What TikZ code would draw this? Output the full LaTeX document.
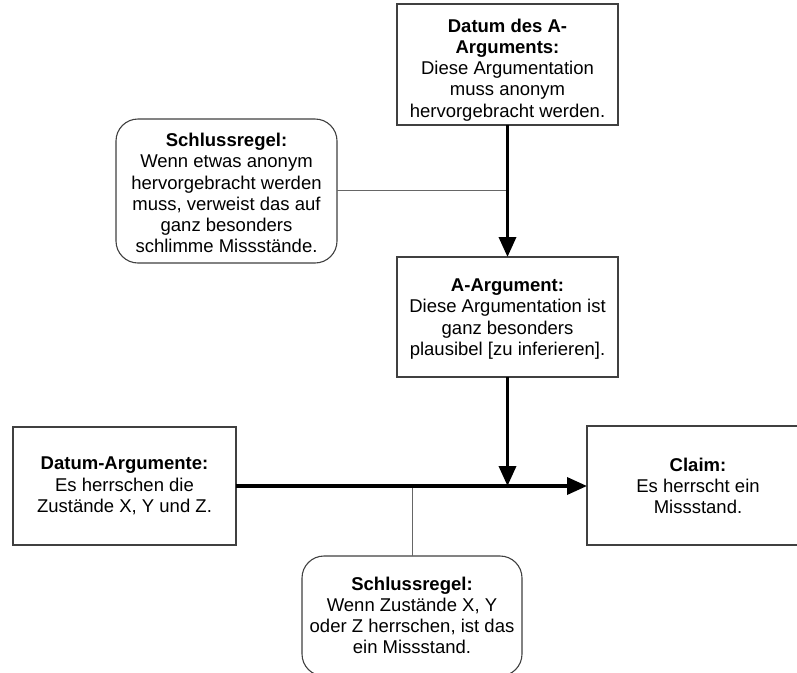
\documentclass[tikz,border=0pt]{standalone}
\usepackage{fontspec}
\setmainfont{Liberation Sans}
\usetikzlibrary{arrows.meta}
\begin{document}
\begin{tikzpicture}[x=1pt,y=-1pt,
  every node/.style={font=\fontsize{18.5}{21.2}\selectfont, align=center, inner sep=0pt},
  sqbox/.style={draw=black!75, line width=1.1pt, fill=white},
  rbox/.style={draw=black!75, line width=1.1pt, fill=white, rounded corners=22pt},
  strong/.style={line width=3.5pt, draw=black},
  tip/.style={-{Triangle[length=20pt,width=17pt]}},
  thinline/.style={line width=1pt, draw=black!60}]
\useasboundingbox (0,0) rectangle (797,672);
\clip (0,0) rectangle (797,672);
% boxes
\draw[sqbox] (397,4) rectangle (618,125);
\node (dA) at (507.5,70) {\textbf{Datum des A-}\\\textbf{Arguments:}\\Diese Argumentation\\muss anonym\\hervorgebracht werden.};
\coordinate (dAs) at (507.5,125);

\draw[rbox] (116,119) rectangle (337,263);
\node (sr1) at (226.5,193) {\textbf{Schlussregel:}\\Wenn etwas anonym\\hervorgebracht werden\\muss, verweist das auf\\ganz besonders\\schlimme Missstände.};
\coordinate (sr1e) at (337,190);

\draw[sqbox] (397,257) rectangle (618,377);
\node (aA) at (507.5,319) {\textbf{A-Argument:}\\Diese Argumentation ist\\ganz besonders\\plausibel [zu inferieren].};
\coordinate (aAn) at (507.5,257);
\coordinate (aAs) at (507.5,377);

\draw[sqbox] (13,427) rectangle (236,545);
\node (dArg) at (124.5,486) {\textbf{Datum-Argumente:}\\Es herrschen die\\Zustände X, Y und Z.};
\coordinate (dArge) at (236,486);

\draw[sqbox] (587,426) rectangle (809,545);
\node (claim) at (698,486) {\textbf{Claim:}\\Es herrscht ein\\Missstand.};
\coordinate (claimw) at (587,486);

\draw[rbox] (302,556) rectangle (522,676);
\node (sr2) at (412,615.5) {\textbf{Schlussregel:}\\Wenn Zustände X, Y\\oder Z herrschen, ist das\\ein Missstand.};
\coordinate (sr2n) at (412,556);

% junctions
\coordinate (j1) at (507.5,190);
\coordinate (j2) at (507.5,486);
\coordinate (j3) at (412,486);

% connectors
\draw[thinline] (sr1e) -- (j1);
\draw[thinline] (sr2n) -- (j3);
\draw[strong,tip] (dAs) -- (aAn);
\draw[strong,tip] (aAs) -- (j2);
\draw[strong,tip] (dArge) -- (claimw);
\end{tikzpicture}
\end{document}
